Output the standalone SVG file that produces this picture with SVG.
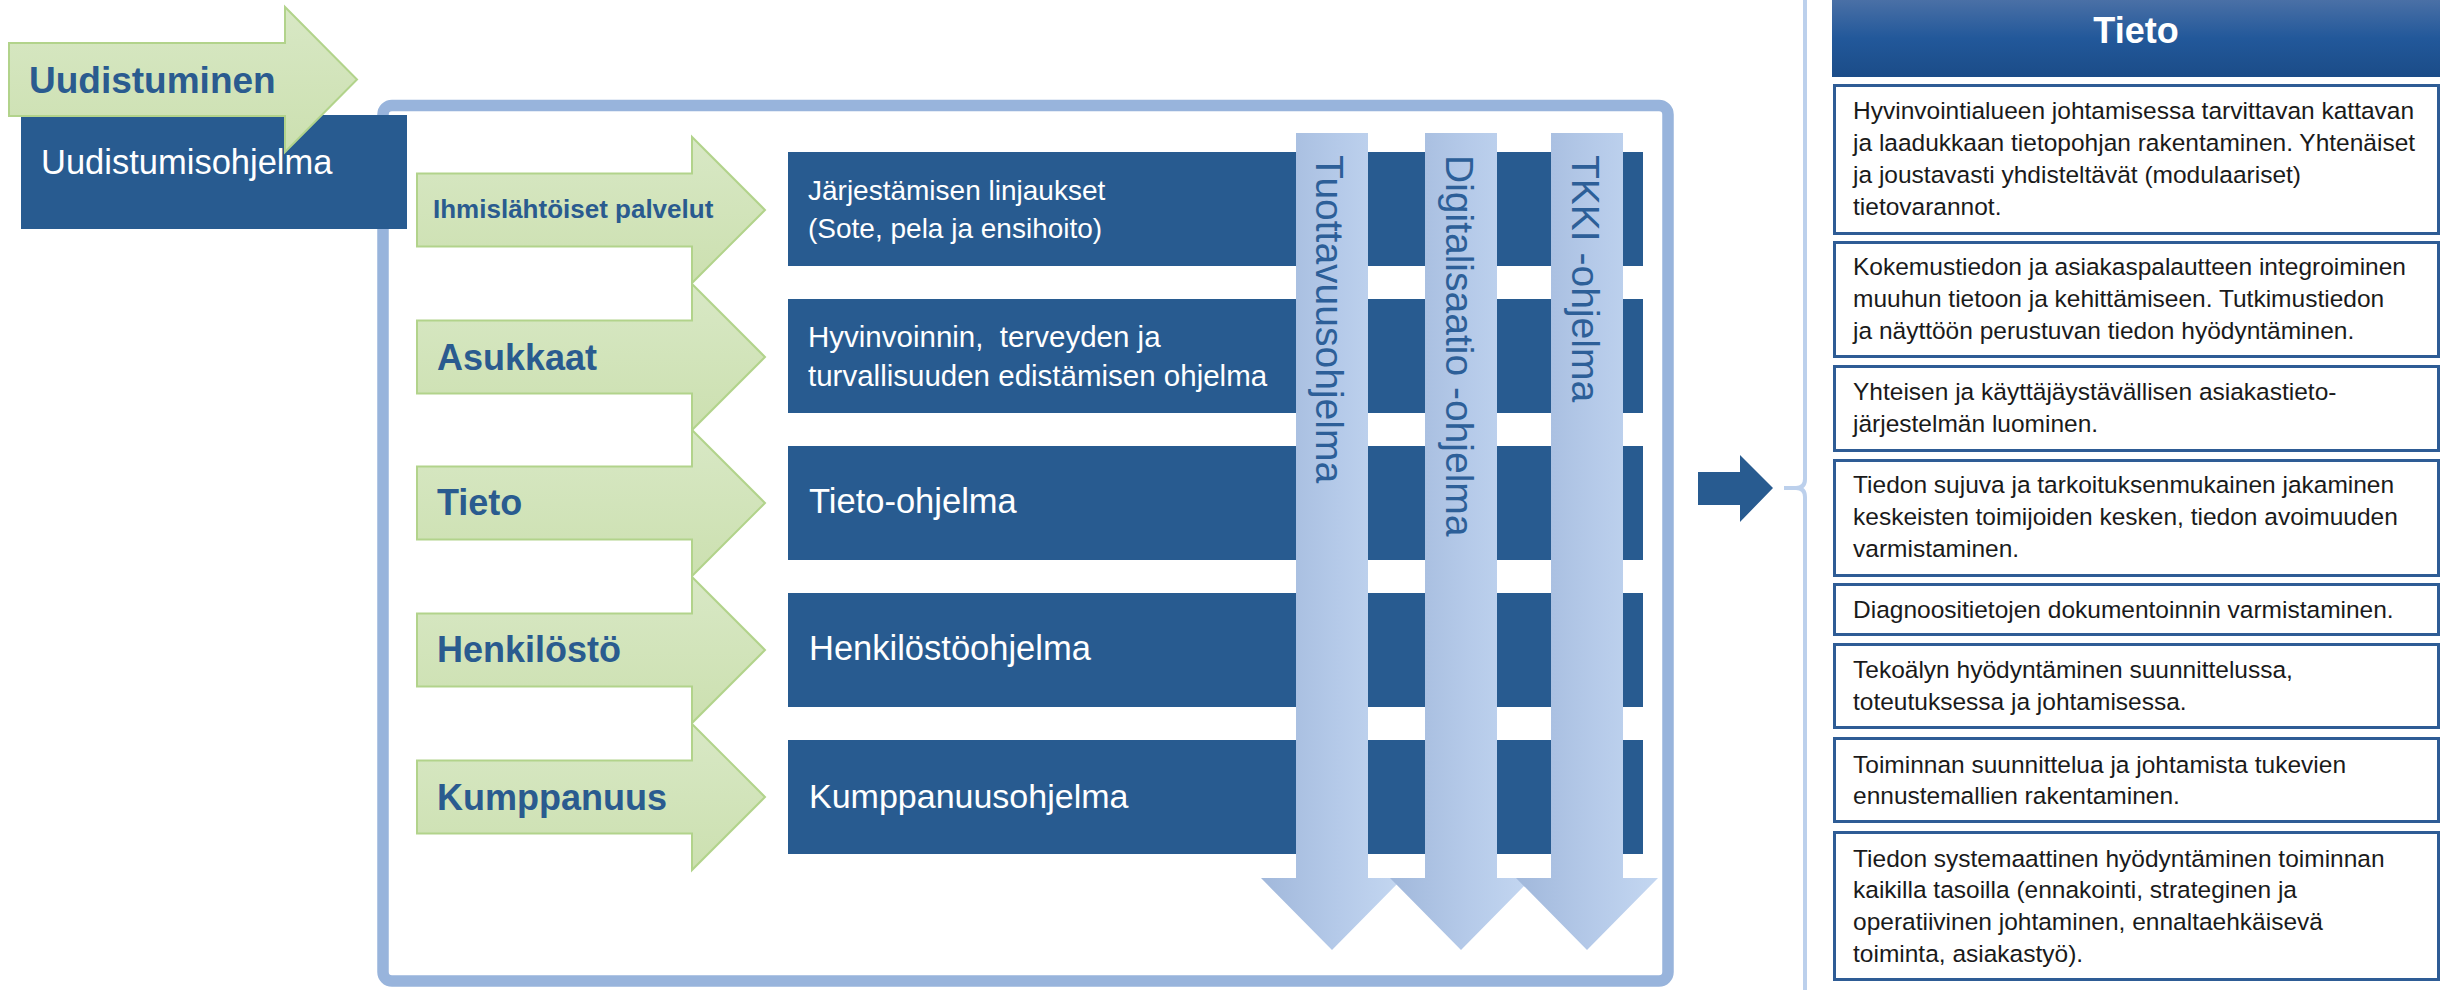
<svg xmlns="http://www.w3.org/2000/svg" width="2443" height="990" viewBox="0 0 2443 990">
<defs>
<linearGradient id="gGreen" x1="0" y1="0" x2="0" y2="1">
<stop offset="0" stop-color="#D8E8C5"/>
<stop offset="1" stop-color="#CCE0B0"/>
</linearGradient>
<linearGradient id="gDown" x1="0" y1="0" x2="1" y2="0">
<stop offset="0" stop-color="#A1B8DB"/>
<stop offset="0.55" stop-color="#B5CAE9"/>
<stop offset="1" stop-color="#C4D7F1"/>
</linearGradient>
<linearGradient id="gHead" x1="0" y1="0" x2="0" y2="1">
<stop offset="0" stop-color="#4A70A6"/>
<stop offset="0.5" stop-color="#22589A"/>
<stop offset="1" stop-color="#1B4C88"/>
</linearGradient>
<style>
text{font-family:"Liberation Sans",Arial,sans-serif;}
.green{fill:url(#gGreen);stroke:#B2D38B;stroke-width:2;}
.glabel{fill:#2A5B8F;font-weight:bold;font-size:36px;}
.prog{fill:#285B90;}
.ptext{fill:#FFFFFF;font-size:34.5px;}
.down{fill:url(#gDown);}
.vtext{fill:#2D5F98;font-size:39px;}
.tbox{fill:#FFFFFF;stroke:#2E5C95;stroke-width:3;}
.ttext{fill:#1A1A1A;font-size:24.5px;}
</style>
</defs>
<rect width="2443" height="990" fill="#FFFFFF"/>

<g id="frame">
<rect x="383" y="105.5" width="1285" height="875.5" rx="9" fill="none" stroke="#98B4DC" stroke-width="11.5"/>
</g>

<g id="uudistumisohjelma">
<rect x="21" y="115" width="386" height="114" class="prog"/>
</g>
<g id="uudistuminen">
<path d="M9,43 H285 V7 L357,79.5 L285,152 V116 H9 Z" class="green"/>
<text x="29" y="93" class="glabel" style="font-size:37px">Uudistuminen</text>
</g>
<text x="41" y="174" class="ptext">Uudistumisohjelma</text>

<g id="ihmislahtoiset">
<path d="M417,173.5 H692 V137 L765,210 L692,283 V246.5 H417 Z" class="green"/>
<text x="433" y="218" class="glabel" style="font-size:26px">Ihmislähtöiset palvelut</text>
</g>
<g id="asukkaat">
<path d="M417,320.5 H692 V284 L765,357 L692,430 V393.5 H417 Z" class="green"/>
<text x="437" y="370" class="glabel">Asukkaat</text>
</g>
<g id="tieto-arrow">
<path d="M417,466.5 H692 V430 L765,503 L692,576 V539.5 H417 Z" class="green"/>
<text x="437" y="515" class="glabel">Tieto</text>
</g>
<g id="henkilosto">
<path d="M417,613.5 H692 V577 L765,650 L692,723 V686.5 H417 Z" class="green"/>
<text x="437" y="662" class="glabel">Henkilöstö</text>
</g>
<g id="kumppanuus">
<path d="M417,760.5 H692 V724 L765,797 L692,870 V833.5 H417 Z" class="green"/>
<text x="437" y="810" class="glabel">Kumppanuus</text>
</g>

<g id="prog1">
<rect x="788" y="152" width="855" height="114" class="prog"/>
<text x="808" y="200" class="ptext" style="font-size:28px">Järjestämisen linjaukset</text>
<text x="808" y="238" class="ptext" style="font-size:28px">(Sote, pela ja ensihoito)</text>
</g>
<g id="prog2">
<rect x="788" y="299" width="855" height="114" class="prog"/>
<text x="808" y="347" class="ptext" style="font-size:29.5px;white-space:pre" xml:space="preserve">Hyvinvoinnin,  terveyden ja</text>
<text x="808" y="386" class="ptext" style="font-size:29.5px">turvallisuuden edistämisen ohjelma</text>
</g>
<g id="prog3">
<rect x="788" y="446" width="855" height="114" class="prog"/>
<text x="809" y="513" class="ptext">Tieto-ohjelma</text>
</g>
<g id="prog4">
<rect x="788" y="593" width="855" height="114" class="prog"/>
<text x="809" y="660" class="ptext">Henkilöstöohjelma</text>
</g>
<g id="prog5">
<rect x="788" y="740" width="855" height="114" class="prog"/>
<text x="809" y="808" class="ptext" style="font-size:34px">Kumppanuusohjelma</text>
</g>

<g id="tuottavuus">
<path d="M1296,133 H1368 V878 H1403 L1332,950 L1261,878 H1296 Z" class="down"/>
<text transform="translate(1316,155) rotate(90)" class="vtext">Tuottavuusohjelma</text>
</g>
<g id="digitalisaatio">
<path d="M1425,133 H1497 V878 H1532 L1461,950 L1390,878 H1425 Z" class="down"/>
<text transform="translate(1446,155) rotate(90)" class="vtext">Digitalisaatio -ohjelma</text>
</g>
<g id="tkki">
<path d="M1551,133 H1623 V878 H1658 L1587,950 L1516,878 H1551 Z" class="down"/>
<text transform="translate(1572,155) rotate(90)" class="vtext">TKKI -ohjelma</text>
</g>

<g id="connectors">
<path d="M1698,472 H1740 V455 L1773,488 L1740,522 V505 H1698 Z" fill="#285B90"/>
<path d="M1805,0 V479 Q1805,488 1796,488 H1784 M1796,488 Q1805,488 1805,497 V990" fill="none" stroke="#BCD0EC" stroke-width="4"/>
</g>

<g id="tieto-header">
<rect x="1832" y="0" width="608" height="77" fill="url(#gHead)"/>
<text x="2136" y="43" text-anchor="middle" style="font-size:36px;font-weight:bold;fill:#FFFFFF">Tieto</text>
</g>

<g id="t1">
<rect x="1834.5" y="85.5" width="604" height="148" class="tbox"/>
<text x="1853" y="119" class="ttext">Hyvinvointialueen johtamisessa tarvittavan kattavan</text>
<text x="1853" y="151" class="ttext">ja laadukkaan tietopohjan rakentaminen. Yhtenäiset</text>
<text x="1853" y="183" class="ttext">ja joustavasti yhdisteltävät (modulaariset)</text>
<text x="1853" y="215" class="ttext">tietovarannot.</text>
</g>
<g id="t2">
<rect x="1834.5" y="242.5" width="604" height="114" class="tbox"/>
<text x="1853" y="275" class="ttext">Kokemustiedon ja asiakaspalautteen integroiminen</text>
<text x="1853" y="307" class="ttext">muuhun tietoon ja kehittämiseen. Tutkimustiedon</text>
<text x="1853" y="339" class="ttext">ja näyttöön perustuvan tiedon hyödyntäminen.</text>
</g>
<g id="t3">
<rect x="1834.5" y="366.5" width="604" height="84" class="tbox"/>
<text x="1853" y="400" class="ttext">Yhteisen ja käyttäjäystävällisen asiakastieto-</text>
<text x="1853" y="432" class="ttext">järjestelmän luominen.</text>
</g>
<g id="t4">
<rect x="1834.5" y="460.5" width="604" height="115" class="tbox"/>
<text x="1853" y="493" class="ttext">Tiedon sujuva ja tarkoituksenmukainen jakaminen</text>
<text x="1853" y="525" class="ttext">keskeisten toimijoiden kesken, tiedon avoimuuden</text>
<text x="1853" y="557" class="ttext">varmistaminen.</text>
</g>
<g id="t5">
<rect x="1834.5" y="584.5" width="604" height="50" class="tbox"/>
<text x="1853" y="618" class="ttext">Diagnoositietojen dokumentoinnin varmistaminen.</text>
</g>
<g id="t6">
<rect x="1834.5" y="644.5" width="604" height="83" class="tbox"/>
<text x="1853" y="678" class="ttext">Tekoälyn hyödyntäminen suunnittelussa,</text>
<text x="1853" y="710" class="ttext">toteutuksessa ja johtamisessa.</text>
</g>
<g id="t7">
<rect x="1834.5" y="738.5" width="604" height="83" class="tbox"/>
<text x="1853" y="773" class="ttext">Toiminnan suunnittelua ja johtamista tukevien</text>
<text x="1853" y="804" class="ttext">ennustemallien rakentaminen.</text>
</g>
<g id="t8">
<rect x="1834.5" y="832.5" width="604" height="147" class="tbox"/>
<text x="1853" y="867" class="ttext">Tiedon systemaattinen hyödyntäminen toiminnan</text>
<text x="1853" y="898" class="ttext">kaikilla tasoilla (ennakointi, strateginen ja</text>
<text x="1853" y="930" class="ttext">operatiivinen johtaminen, ennaltaehkäisevä</text>
<text x="1853" y="962" class="ttext">toiminta, asiakastyö).</text>
</g>
</svg>
